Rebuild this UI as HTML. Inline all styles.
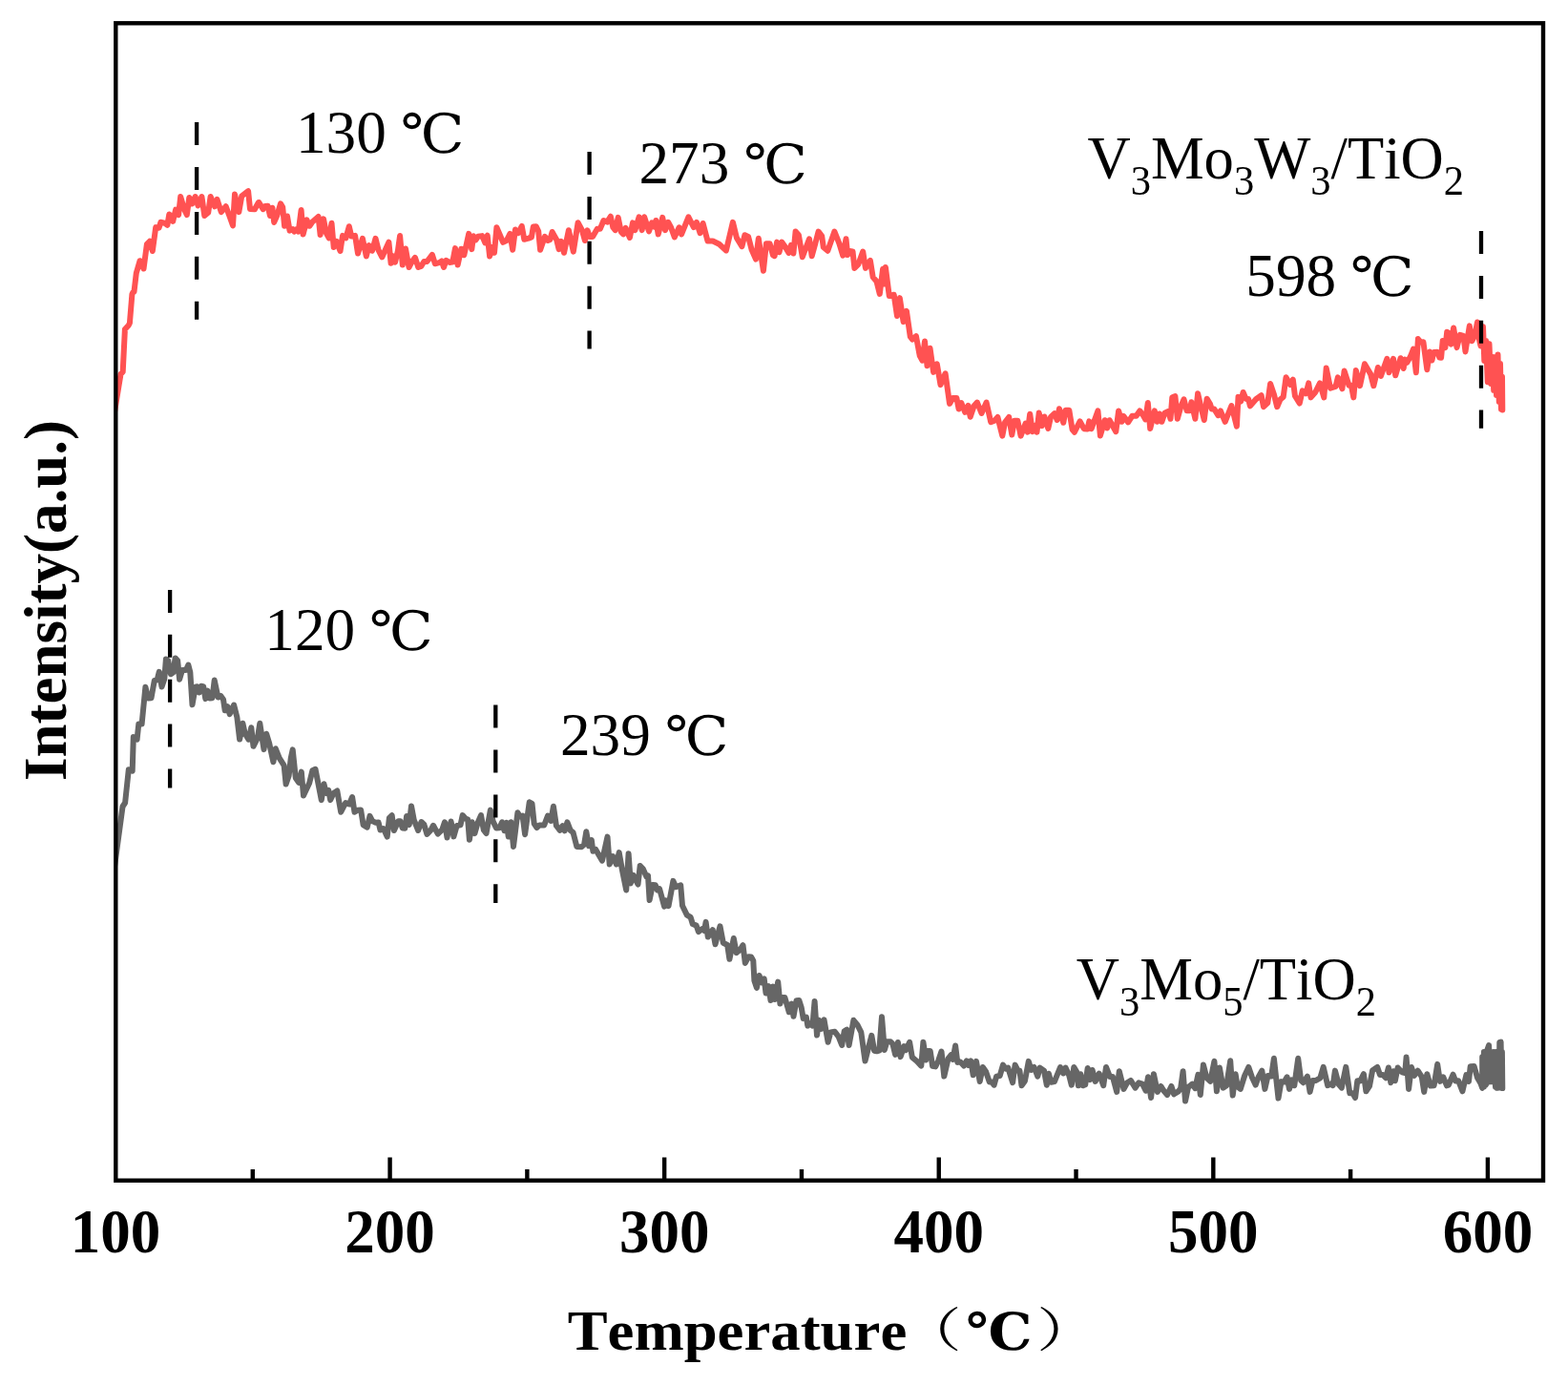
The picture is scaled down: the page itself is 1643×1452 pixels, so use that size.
<!DOCTYPE html>
<html lang="en"><head><meta charset="utf-8"><title>NH3-TPD profiles</title>
<style>
html,body{margin:0;padding:0;background:#fff;}
body{width:1643px;height:1452px;overflow:hidden;}
svg{display:block;}
text{font-family:"Liberation Serif","Noto Serif CJK SC",serif;fill:#000;font-kerning:none;}
.b{font-weight:bold;}
.dj{font-family:"DejaVu Serif","Noto Serif CJK SC",serif;}
.cj{font-family:"Noto Serif CJK SC","Noto Sans CJK SC",serif;font-weight:normal;}
</style></head>
<body>
<svg width="1643" height="1452" viewBox="0 0 1643 1452">
<rect width="1643" height="1452" fill="#fff"/>
<svg id="plot" x="121.3" y="24.3" width="1495.7" height="1212.4" viewBox="121.3 24.3 1495.7 1212.4" overflow="hidden">
<g id="curves" fill="none" stroke-width="6" stroke-linejoin="round" stroke-linecap="round">
<path id="red" stroke="#FF5252" d="M119.6,434 126.5,392 128.7,389.5 130.9,345 134.8,340.7 135.9,338.5 138.4,308.2 139.2,306.5 140.5,305.6 142.8,286.1 146.6,273.2 150.5,281.5 153.9,255.9 156.9,252.8 159.8,263 163.2,238.1 166.6,238.7 168.4,232.8 172.4,233.6 175.4,235.8 177.3,224.5 181.2,231.9 184.1,219.6 187.1,225.1 189.2,206 192.9,218.9 195.8,225.1 198.3,207 201.2,213.4 204.6,206 207.5,215.3 211.4,206 214.3,226 218.2,222.8 220.6,206 225,216.3 227.5,208.9 231.8,222.1 236.7,216.2 240.6,226.7 244,236.3 246,203.6 250.3,222.1 253.3,205.3 260.1,200.2 262,218.9 266.9,219.2 270.8,212.1 271.3,212.1 275.7,219.2 277.7,216 280.6,215.7 283,226 285.4,217.7 287.2,232.9 290.3,225.8 294,213.3 296.2,217 298.1,236.7 301,226.5 303.5,241.6 306.9,240.1 308.3,242.6 310.8,240.1 312.7,242.6 315.6,220.1 317.6,245.5 321.5,230.4 324.4,236.7 327.3,232.6 333.6,227 335.6,246 339,229.4 341.9,244.3 344.8,249.4 347.5,233.8 349.7,259.1 352.6,252.8 354.1,256.9 356.5,263 359,246.9 362.4,249.4 365.8,237.2 368.2,247.5 372.1,246.9 375,265.5 379.9,249.8 383.8,268.4 386.7,257.1 390.1,262.6 393.5,249.8 396.5,261.8 400.3,269.4 403.3,262.8 407.4,253.7 409.6,275.7 412,268.3 414,274.7 416.9,262.8 419.1,246.9 421.8,277.6 425,260.5 428.5,280 431.6,274 434.9,269.8 438.3,280 441.3,278.9 444.3,274 447.4,274 452.9,266.8 455.9,276.3 460.2,275.2 462.8,273.5 465,280 467.5,272.9 471.1,274.9 474.2,274.6 477,260.1 479.6,277.6 483.3,260.7 486.3,267.2 491.2,244.9 494.3,261.1 496.1,247.3 498.5,251.4 500.9,247.8 505.2,247.1 508.3,254.4 510.7,246.7 513.1,268.4 516.2,258.9 518,264.8 520.4,238.2 527.1,253.8 530.8,252.1 534.4,244.9 537.2,261.7 539.9,240.6 542.9,244.1 546.8,237 549.3,250.8 553.9,249.6 556.9,248.4 558.8,237.5 561.8,237.2 564.2,242.3 566.1,261.7 570.9,247.9 574,252 576.4,250.9 578.6,243 583.1,250.9 585.6,261.1 588,252.8 591,264.8 595.9,241.2 600.8,263.6 605.6,233.3 609.9,241.1 612.9,252 615.5,241.3 617.9,247.9 621,247.9 625.8,239.7 628.9,239.7 632.5,231 636.2,232.6 639.8,226.7 642.3,238.2 644.7,241.1 647.7,227.9 650.8,243 653.2,245.4 655.6,238.9 659.9,249 663,233.4 665.4,241.1 669.6,227.3 672.7,241.1 675.1,227.3 680,242.3 683,233.4 685.5,237.5 687.3,231 689.7,245.4 694.2,227.9 697,241.1 700.1,232.8 703.1,238.2 706.8,248.4 711.6,238.3 714.1,245.4 721.4,227.3 726.9,238.1 729.9,232.8 733.6,244.2 736.6,234 741.5,252.5 746.9,252.5 753.6,255.8 760.9,262.4 767.9,232.8 771.9,249.1 777.4,258.2 780.4,246.2 784.1,247.9 787.7,261.9 792,271.6 794.8,249.8 799.9,283.7 802.9,255.2 806.6,255.2 810,267.4 811.6,268.2 814.1,253.6 816.5,264.3 819.3,253.6 822.6,258.4 826.5,264.9 828.9,256.9 831.4,265.5 833.6,242.6 836.9,246.3 840.8,269.3 848,250.3 850.7,268.2 854,256.2 857.6,242.6 861.2,247.4 862.8,259 867.3,262.7 874.4,242.6 879.4,255.1 883.2,267.7 886.5,250.3 888.2,267.1 890.4,263.1 893.5,263.4 895.4,280.9 899.2,277.2 904.2,263.5 906.9,280.9 911.9,272.9 914.7,290.4 918.5,294.8 921.8,307.9 925.1,281.7 926.2,297.4 927.9,280.1 931.8,310.1 936.7,308.7 940,331.1 942.8,312.1 946.6,337.1 949.9,325.8 953.8,352.7 956.1,355.7 959.9,352.1 963.8,372.9 966.5,377.7 969,357.6 971.5,383.2 974.5,364.8 978.1,389.9 981.8,381.3 985.5,403.1 990.6,391.3 995,422.9 998.5,417 1002.4,417 1004.6,428.5 1007.3,422.1 1011.2,431.8 1014.5,424.9 1016.7,436.7 1020.6,425.3 1023.9,421.6 1028.5,432.9 1033.6,421.6 1038.2,442.2 1042.1,440.7 1045.4,437 1050.3,456.6 1053.1,442.4 1057.2,437 1060.3,455.5 1063,440.7 1066.3,440.7 1069.6,456.6 1074.6,443.6 1076.8,452.7 1079.2,433.7 1081.8,452.2 1084.5,445.8 1086.5,452.7 1088.7,432.6 1091.7,446.1 1094.4,436.5 1098.3,448.8 1101,436.9 1104.9,433.2 1107.7,440 1109.9,428.2 1114.3,442.8 1116.5,429.7 1120.3,429.7 1123.6,450.1 1125.9,452.7 1131.6,441.4 1135.8,449.2 1139.5,449.5 1141.3,441.4 1143.7,449.1 1150.4,430.4 1152.9,456.4 1157.7,440.2 1160.2,448.5 1162.6,440.2 1169.3,452.2 1172.1,430.4 1175.4,441.8 1177.2,435.9 1182.1,442.4 1186.3,435.8 1190.6,435.8 1194.3,430.4 1197.9,435.2 1200.3,439.4 1202.8,421.9 1205.2,449.1 1209.8,430.4 1212.5,441.8 1214.9,433.5 1217.4,441.8 1220.4,432.8 1224.1,431 1226.5,438.8 1228.3,416.3 1231.4,415.2 1233.8,438.8 1237.5,425.5 1240.5,418.3 1243.6,430.3 1246.6,430.3 1248.4,421.3 1252.4,438.8 1255.1,412.2 1258.2,425.5 1261.8,440 1264.6,417.7 1267.9,423 1269.7,428.6 1272.2,428.4 1276.4,435.1 1278.9,430.4 1283.7,441.8 1290.4,425 1295.9,446.7 1297.5,415.8 1300.2,420.5 1302.6,411 1305.6,417.9 1308.1,417.9 1309.9,425.4 1316,418.2 1321.6,414.2 1324,426.2 1328.3,422 1331.1,402 1335,413.5 1338.2,426.2 1341.6,418.3 1344.7,415.9 1347.5,395.3 1352,403 1354.8,397.7 1356.9,414.7 1361.7,422.5 1364.8,409.3 1368.4,412.2 1371.2,401.4 1373.5,416.4 1378.2,411 1383,401.4 1387.3,416.4 1389.7,385.6 1394,406.7 1399.5,404.9 1401.9,395.3 1406.4,407.3 1408.6,388.6 1413.5,403.7 1415.9,403.7 1418.3,416.4 1420.8,388 1425,404.2 1429.9,381.3 1436,391.6 1439.3,404.2 1443.9,385 1446.9,393.9 1453.4,375.8 1455.5,390.2 1460,375.8 1462.2,393.3 1467.6,375.2 1470.7,386 1471.9,376.4 1474.3,379.9 1478,373.3 1481,365.5 1483.8,390.2 1485.9,355.1 1488.9,358.6 1491.4,358.2 1495.3,387.2 1498.1,368.5 1500.5,377.5 1502.3,369 1506,368.7 1508.4,374.5 1510.1,374.8 1511.7,356.9 1514.4,364.1 1516.2,347.8 1518.3,349.3 1520.5,360.6 1523.1,343.5 1526.5,364.1 1529.9,350.8 1533.4,351.9 1535.5,368.4 1539.8,341.4 1542.4,357.2 1545.4,351 1548,337.5 1549.7,354.4 1551.5,362.4 1554,342.2 1555.3,377.9 1557.1,356.9 1558.8,400.2 1560.5,360.3 1562.2,402 1564,374.1 1565.2,408.8 1567,374.1 1568,414 1569.5,371.5 1570.8,420.9 1572,381 1573,428.7 1574,394.7 1574.3,429.4"/>
<path id="gray" stroke="#666666" d="M119.7,910 128.5,845 131.1,841 134.8,806.3 138.7,807.7 139.8,772.1 143.6,774.6 145.3,758.5 148.6,758.5 152.4,719.8 155.2,731.5 158.5,731.2 161.8,713 164.6,712.4 166.8,703.8 169.5,719.5 172.3,711.3 173.9,690.5 176.2,692.1 178.9,706.2 181.7,704.2 183.6,689.4 186.1,692.1 188.1,711.7 191,702 194.9,702 197.3,696.6 199.3,704.2 201.5,738.2 204.8,719.6 206.5,719.3 208.7,725.5 210.9,718.8 213.1,719.1 215.3,732.1 217.5,723.6 219.7,731.5 222.5,731.2 224.7,712.6 228.5,730.5 231.3,729.1 234,732.8 235.7,744.3 238.4,740.2 240.7,748.1 245.1,738.5 248.4,751.6 251.1,774.6 254.4,757.8 256.6,768.1 260.5,774.6 263.3,762.2 265.5,781.8 269.9,773.1 272.3,757.8 276.5,785.1 279.2,768.8 282,778 286.4,798.3 288.8,784.3 292.7,794.1 297.6,801.8 299.6,821.5 302.6,812.8 304.8,794.1 306.7,785.4 309.8,815 313.1,819.9 315.8,808.6 318,833.6 324.1,820.6 327.4,807.3 330.5,805.8 336.8,838.1 339.5,821.3 341.7,830.9 344.2,827.9 346.2,838.1 349.5,831 353.3,828.4 357.2,850.7 362.1,841.1 366,842.5 369.1,835 371.5,850.7 374.8,848.7 378.1,848.4 380.6,864.1 384.7,866.7 387.5,854.9 390.3,860.3 393.6,861.7 396.6,861.6 398.5,869.5 401.8,868.1 405.7,876.6 407.9,856.9 410.7,854.3 412.9,870 417.3,860.3 419.5,860.3 421.7,867.4 424.4,867.7 426.1,854.9 428.8,864 431,844.4 433.8,859.2 438.2,870 441.5,861 444.3,863.6 447.4,873.9 451.4,869.6 454,864.8 458.8,873.6 463.2,869.4 466,861.3 468.5,877.5 470.4,867.2 472.6,860.7 475.4,876.4 478.7,865 482.5,864.4 484.7,854.1 488,857.8 490.2,858.4 491.9,879.7 494.7,861.3 497.4,873.1 500.7,861.7 504,854.1 506.8,869.4 509.5,873.1 513.9,848.6 516.7,860.6 520,867.5 523.3,867.2 526.1,861.3 528.5,870.3 531,861.8 532.7,876.4 535.4,861.3 538,886.9 542.4,851.3 544.8,855.5 547.6,854.6 550.1,874.2 554.7,840.3 557.5,841.8 559.7,862.8 562.5,867 565.2,864.4 570.2,864.5 574,854.6 577.3,859.9 579.9,844.7 582.9,865 586.7,869.8 589.5,865.1 591.7,870.3 594.4,861.3 597.7,869.9 600.5,872.1 604.4,887 609.3,887.3 612.1,884.8 614.3,871.2 617,886.3 619.8,880 621.4,891.8 624.2,889.9 627.5,895.8 631,901.7 636.5,876.6 638.7,905.5 642.1,897 645.9,905.5 648.7,893.1 652,911.7 656.2,932.5 658.6,894.3 660.8,925.4 663.6,916.9 668.5,926.5 670.7,906.9 674,910.6 677.3,918.2 679,917.4 680.6,943 683.9,926.9 686.7,927.2 688.9,932.5 691.1,931.2 696.1,949.6 697.7,943.3 700.5,949.1 705.4,922.9 708.2,929.2 713.2,927.3 715,948.7 719.8,958.6 723.6,960.8 725.8,968 729.7,969.6 731.9,976.1 735.8,973.1 738,975 739.6,965.9 741.8,981.6 746.8,974.2 749.5,989.3 754.5,970.3 757.8,987.8 762.2,990 764.4,1004.8 768.8,983 771.6,998.1 775.5,995 778.5,990.2 780.8,1009 784.3,1002.2 787.1,1002.5 789.3,1006.4 790.4,1027.3 792.9,1034.9 795.6,1022 798.1,1029.4 800.7,1025.3 802.5,1040.4 805.3,1033 807.5,1048.1 809.7,1033.5 811.9,1047 815.2,1028.6 817.4,1051.4 819.6,1045 822.4,1045 826.8,1060.3 829.5,1051.7 831.5,1064.7 834.5,1048.3 837.3,1048 839.7,1055.4 841.7,1066.9 844.8,1065.5 846.3,1074.6 849.4,1072.1 851.4,1074.6 853.6,1049 856,1084.5 858.2,1068.8 860.6,1077.9 863.5,1068.3 867.6,1091.7 870.3,1081.4 874.7,1080.8 878.6,1085.8 882.2,1095 884.7,1080.3 887.4,1078.7 889.6,1095 894.4,1068.8 898.4,1073.6 902.3,1081.4 906.5,1111.5 913.3,1084.8 916.1,1100.7 918.8,1101.3 921.3,1100.7 924,1065.2 926.8,1100 929.3,1091.3 933.2,1091.3 935.4,1093.5 938.1,1104.9 940.9,1092 943.6,1107.1 947.3,1096.1 949.1,1100.2 953.1,1091.8 955.8,1107.6 960.1,1111.2 962.5,1113.6 965.3,1116.6 967.4,1091.8 970.2,1110.5 971.9,1100.9 974.7,1100.9 977.1,1116.7 980.2,1117.4 983.2,1111.2 986.5,1101.6 989.3,1127.6 993.6,1108.8 996.6,1105.2 998.4,1109.9 1001.1,1095.5 1003.3,1112.9 1006.3,1112.5 1010,1116.6 1012.8,1111.3 1014.9,1116 1017.3,1111.3 1019.7,1126.3 1023,1111.9 1026.7,1133 1029.8,1118 1033.1,1122.8 1036.8,1133.4 1039.2,1133.4 1041.6,1136.7 1044.1,1127.6 1047.7,1127 1051,1115.6 1053.8,1119.6 1056.3,1118.6 1061.1,1134.2 1063.6,1115.6 1066.6,1121.6 1068.4,1121.6 1070.5,1137.3 1073.9,1132.5 1077.8,1111.9 1080.6,1120.9 1083.6,1118 1087.3,1127.6 1089.7,1118.6 1094,1121.6 1096.8,1136.7 1098.9,1124.7 1101.3,1133.8 1104.9,1133.1 1111,1118 1114.1,1124.5 1116.5,1118.6 1120.2,1126.4 1122.8,1136.7 1125.3,1118 1128.1,1122.8 1129.9,1137.3 1132.3,1125.3 1134.8,1137.3 1137.2,1136.2 1139.7,1118.9 1142.2,1131.1 1144.6,1121 1147.7,1132.9 1151.7,1124.6 1156.2,1137.2 1159,1117.9 1162.9,1127.9 1165.9,1127.9 1170.2,1143.9 1172.8,1122.2 1177.5,1140.9 1181.1,1134.3 1184.8,1131.9 1189.6,1139.6 1193.3,1134.3 1197,1135.5 1200.6,1142.7 1203,1128.3 1206.1,1150 1208.9,1125.2 1212.8,1143.9 1216.4,1138 1219.5,1142.8 1223.1,1146.9 1227.4,1138 1230.1,1146.3 1234.7,1143.4 1237.1,1140.3 1239.6,1122.2 1242,1153.6 1245,1139.1 1249.3,1135.6 1252.3,1140.2 1255.4,1125.8 1257.8,1146.9 1260.9,1115.5 1264.5,1129.4 1268.2,1132.9 1272.4,1111.8 1274.9,1143.3 1277.9,1118.5 1281.6,1139.6 1285.2,1137.3 1289.2,1111.2 1291.7,1147.6 1294.6,1125.2 1296.8,1138.5 1299.8,1140.9 1304.1,1127 1308.3,1117.9 1312,1128.8 1315.6,1136.6 1318.7,1128.2 1322.3,1121.6 1325.4,1140.9 1328.5,1127 1332.2,1127.5 1334.9,1108.8 1339.5,1150.6 1342.5,1133.1 1345.6,1133.6 1348.6,1128.3 1351,1140.9 1353.5,1131.3 1356.3,1137.2 1360.2,1108.8 1363.2,1131.8 1365.6,1134.2 1369.9,1127.7 1372.6,1143.9 1375.4,1132.1 1378.4,1132.1 1383.3,1129.4 1386.7,1117.9 1391.2,1137.2 1394.3,1135.6 1396.7,1137.2 1398.9,1121.6 1402.8,1136.1 1405.8,1139.6 1410.3,1117.9 1414.3,1145.2 1417.4,1145.2 1420.1,1150 1422.3,1132.3 1425.3,1132.5 1428.9,1125.2 1431.4,1143.3 1435,1137.9 1438.1,1121.5 1443.2,1117.9 1446,1126 1449,1126 1452.1,1129.3 1454.9,1118.5 1457.3,1134.2 1460,1122.2 1461.8,1132.3 1464.6,1118.5 1469.1,1123.3 1472.2,1124 1473.6,1107.6 1476.1,1140.9 1478.9,1117.9 1481.9,1126.9 1485.6,1121.6 1489.8,1128.2 1492.2,1143.9 1495.3,1125.2 1498.9,1137.6 1502.6,1137.3 1506.2,1114.9 1508.9,1132.9 1512.3,1128.3 1516,1137.3 1517.9,1136.6 1522.6,1125.7 1525.2,1132.5 1528.2,1132.2 1532.4,1143.3 1536.4,1126.1 1539,1132.9 1540.7,1117.3 1544.6,1117 1548,1128.9 1551.5,1134.9 1553.2,1139.8 1553.2,1107.2 1554.9,1138.5 1554.9,1102 1556.6,1136.8 1558.4,1134 1557.9,1101.3 1560.1,1095.1 1561.4,1133.3 1562.7,1102 1564,1133.3 1565.2,1102 1567,1138.5 1567.4,1102 1568.7,1139.8 1570,1102 1570.8,1139.4 1571.3,1091.9 1572.6,1091.6 1573.4,1139.8 1573.9,1102 1574.3,1140.1"/>
</g>
</svg>
<g id="dashes" stroke="#000" stroke-width="4.3" stroke-dasharray="24 22.9" fill="none">
<path d="M206.1 128.1V334.7"/>
<path d="M617.6 159V365.6"/>
<path d="M1552 242V448.7"/>
<path d="M178.1 617.9V825.5"/>
<path d="M519.3 738.6V946.1"/>
</g>
<g id="ticks" stroke="#000" stroke-width="4.4" fill="none">
<path d="M408.58 1236.7V1212.6M696.16 1236.7V1212.6M983.74 1236.7V1212.6M1271.32 1236.7V1212.6M1558.9 1236.7V1212.6"/>
<path d="M264.79 1236.7V1225M552.37 1236.7V1225M839.95 1236.7V1225M1127.53 1236.7V1225M1415.11 1236.7V1225"/>
</g>
<rect id="frame" x="121.3" y="24.3" width="1495.7" height="1212.4" fill="none" stroke="#000" stroke-width="4.4"/>
<g id="ticklabels" class="b" font-size="64" text-anchor="middle">
<text transform="translate(121,1312.4) scale(0.984,1.033)">100</text>
<text transform="translate(408.58,1312.4) scale(0.984,1.033)">200</text>
<text transform="translate(696.16,1312.4) scale(0.984,1.033)">300</text>
<text transform="translate(983.74,1312.4) scale(0.984,1.033)">400</text>
<text transform="translate(1271.32,1312.4) scale(0.984,1.033)">500</text>
<text transform="translate(1558.9,1312.4) scale(0.984,1.033)">600</text>
</g>
<text id="xtitle" class="b" font-size="64" transform="translate(594.7,1414.2) scale(0.981,0.935)">Temperature<tspan class="cj" x="355.56" y="-3.74" font-size="52.71" textLength="65.24" lengthAdjust="spacingAndGlyphs">（</tspan><tspan class="dj" x="425.69" y="0.11" font-size="57.68" textLength="70.60" lengthAdjust="spacingAndGlyphs">℃</tspan><tspan class="cj" x="501.12" y="-3.74" font-size="52.71" textLength="65.24" lengthAdjust="spacingAndGlyphs">）</tspan></text>
<text id="ytitle" class="b" font-size="63" transform="translate(69,818.1) rotate(-90) scale(1,1)">Intensity(a.u.)</text>
<g id="ann" font-size="64">
<text transform="translate(310,160.3) scale(0.9875,1)">130 <tspan class="dj" font-size="57" dx="-1.1" textLength="67.64" lengthAdjust="spacingAndGlyphs">℃</tspan></text>
<text transform="translate(669.5,192.3) scale(0.9875,1)">273 <tspan class="dj" font-size="57" dx="-1.1" textLength="67.64" lengthAdjust="spacingAndGlyphs">℃</tspan></text>
<text transform="translate(1305.3,310.3) scale(0.9875,1)">598 <tspan class="dj" font-size="57" dx="-1.1" textLength="67.64" lengthAdjust="spacingAndGlyphs">℃</tspan></text>
<text transform="translate(277.3,680.6) scale(0.9875,1)">120 <tspan class="dj" font-size="57" dx="-1.1" textLength="67.64" lengthAdjust="spacingAndGlyphs">℃</tspan></text>
<text transform="translate(587,790.5) scale(0.9875,1)">239 <tspan class="dj" font-size="57" dx="-1.1" textLength="67.64" lengthAdjust="spacingAndGlyphs">℃</tspan></text>
<text transform="translate(1139.5,186.9) scale(0.978,1)">V<tspan font-size="43.5" dy="17">3</tspan><tspan dy="-17">Mo</tspan><tspan font-size="43.5" dy="17">3</tspan><tspan dy="-17">W</tspan><tspan font-size="43.5" dy="17">3</tspan><tspan dy="-17">/TiO</tspan><tspan font-size="43.5" dy="17">2</tspan></text>
<text transform="translate(1127.8,1046.5) scale(0.978,1)">V<tspan font-size="43.5" dy="17">3</tspan><tspan dy="-17">Mo</tspan><tspan font-size="43.5" dy="17">5</tspan><tspan dy="-17">/TiO</tspan><tspan font-size="43.5" dy="17">2</tspan></text>
</g>
</svg>
</body></html>
